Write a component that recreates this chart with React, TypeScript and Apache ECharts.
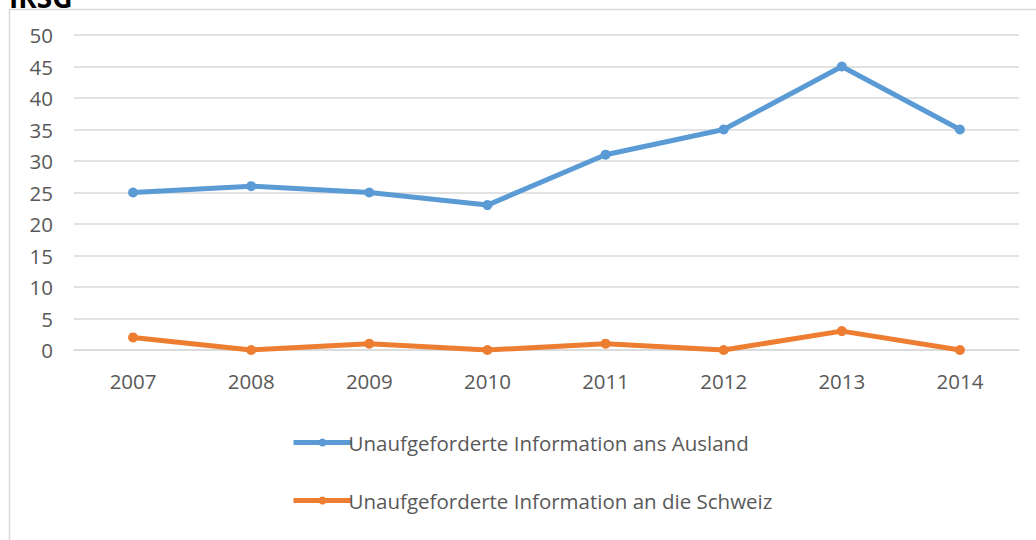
import React, { useEffect, useRef } from "react";
import * as echarts from "echarts";

const years = ["2007", "2008", "2009", "2010", "2011", "2012", "2013", "2014"];
const ausland = [25, 26, 25, 23, 31, 35, 45, 35];
const schweiz = [2, 0, 1, 0, 1, 0, 3, 0];
const seriesNames = [
  "Unaufgeforderte Information ans Ausland",
  "Unaufgeforderte Information an die Schweiz",
];
const title = "IRSG";

export default function App() {
  const ref = useRef<HTMLDivElement>(null);
  useEffect(() => {
    const chart = echarts.init(ref.current!, null, { renderer: "svg" });
    const font = "'Open Sans', 'Noto Sans', sans-serif";
    chart.setOption({
      animation: false,
      backgroundColor: "#ffffff",
      textStyle: { fontFamily: font },
      graphic: [
        {
          type: "rect",
          shape: { x: 9.5, y: 9.5, width: 1200, height: 700 },
          style: { fill: "none", stroke: "#d9d9d9", lineWidth: 1.5 },
          silent: true,
        },
        {
          type: "text",
          x: 9,
          y: 11,
          style: {
            text: title,
            font: `bold 28px ${font}`,
            fill: "#000000",
            textVerticalAlign: "bottom",
          },
        },
      ],
      grid: { left: 74, right: 17, top: 35, bottom: 190 },
      xAxis: {
        type: "category",
        data: years,
        boundaryGap: true,
        axisLine: { show: true, lineStyle: { color: "#d9d9d9", width: 1.5 } },
        axisTick: { show: false },
        axisLabel: { color: "#595959", fontSize: 20.5, margin: 20, fontFamily: font },
      },
      yAxis: {
        type: "value",
        min: 0,
        max: 50,
        interval: 5,
        axisLine: { show: false },
        axisTick: { show: false },
        splitLine: { lineStyle: { color: "#d9d9d9", width: 1.5 } },
        axisLabel: { color: "#595959", fontSize: 20.5, margin: 21, fontFamily: font },
      },
      legend: {
        orient: "vertical",
        left: 286,
        top: 427,
        itemGap: 37,
        itemWidth: 58,
        itemHeight: 10,
        lineStyle: { width: 5 },
        textStyle: { color: "#595959", fontSize: 20.5, fontFamily: font, padding: [0, 0, 0, -8] },
        data: seriesNames,
      },
      series: [
        {
          name: seriesNames[0],
          type: "line",
          data: ausland,
          color: "#5b9bd5",
          lineStyle: { width: 5, color: "#5b9bd5" },
          itemStyle: { color: "#5b9bd5" },
          symbol: "circle",
          symbolSize: 10,
        },
        {
          name: seriesNames[1],
          type: "line",
          data: schweiz,
          color: "#ed7d31",
          lineStyle: { width: 5, color: "#ed7d31" },
          itemStyle: { color: "#ed7d31" },
          symbol: "circle",
          symbolSize: 10,
        },
      ],
    });
    return () => chart.dispose();
  }, []);
  return (
    <div
      ref={ref}
      style={{ position: "absolute", left: 0, top: 0, width: 1036, height: 540 }}
    />
  );
}
